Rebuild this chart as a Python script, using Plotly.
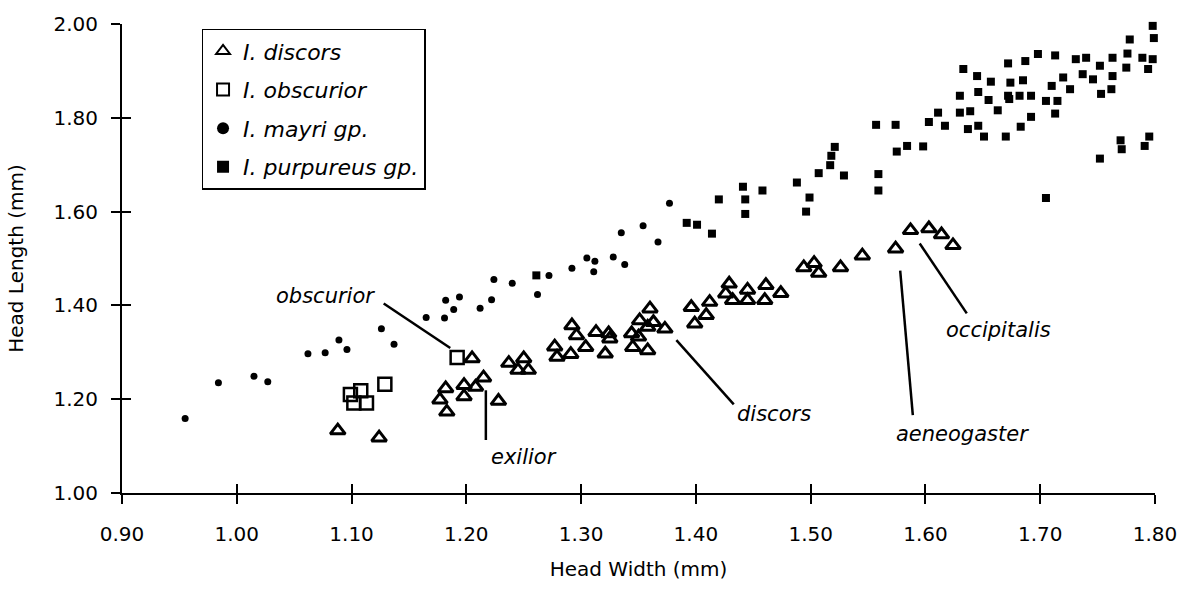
import plotly.graph_objects as go

# ---------------- data ----------------
discors_x = [1.088, 1.124, 1.205, 1.182, 1.177, 1.183, 1.198, 1.198, 1.208, 1.215, 1.228,
             1.237, 1.250, 1.245, 1.254, 1.277, 1.279, 1.292, 1.296, 1.291, 1.304, 1.313,
             1.324, 1.325, 1.321, 1.344, 1.345, 1.351, 1.360, 1.358, 1.363, 1.350, 1.358,
             1.373, 1.396, 1.399, 1.412, 1.409, 1.429, 1.426, 1.432, 1.445, 1.445, 1.461,
             1.460, 1.474, 1.494, 1.503, 1.507, 1.526, 1.545, 1.574, 1.587, 1.603, 1.614, 1.624]
discors_y = [1.133, 1.118, 1.287, 1.223, 1.199, 1.173, 1.230, 1.206, 1.226, 1.246, 1.196,
             1.277, 1.287, 1.262, 1.262, 1.312, 1.290, 1.357, 1.336, 1.296, 1.311, 1.343,
             1.340, 1.329, 1.297, 1.340, 1.311, 1.368, 1.393, 1.354, 1.364, 1.333, 1.304,
             1.350, 1.396, 1.361, 1.407, 1.379, 1.446, 1.425, 1.411, 1.433, 1.411, 1.443,
             1.411, 1.426, 1.481, 1.490, 1.469, 1.481, 1.506, 1.521, 1.560, 1.564, 1.551, 1.528]

obscurior_x = [1.099, 1.108, 1.102, 1.113, 1.129, 1.192]
obscurior_y = [1.210, 1.218, 1.192, 1.192, 1.232, 1.289]

mayri_x = [0.955, 0.984, 1.015, 1.027, 1.062, 1.077, 1.089, 1.096, 1.126, 1.137, 1.165,
           1.181, 1.182, 1.189, 1.194, 1.212, 1.222, 1.224, 1.240, 1.262, 1.272, 1.292,
           1.305, 1.312, 1.311, 1.328, 1.338, 1.335, 1.354, 1.367, 1.377]
mayri_y = [1.159, 1.235, 1.249, 1.237, 1.297, 1.299, 1.326, 1.306, 1.350, 1.317, 1.374,
           1.373, 1.411, 1.391, 1.418, 1.394, 1.412, 1.455, 1.447, 1.423, 1.464, 1.479,
           1.501, 1.494, 1.472, 1.503, 1.487, 1.555, 1.570, 1.535, 1.618]

purpureus_x = [1.261, 1.392, 1.401, 1.414, 1.420, 1.441, 1.443, 1.443, 1.458, 1.488, 1.499,
               1.496, 1.507, 1.517, 1.518, 1.529, 1.521,
               1.557, 1.574, 1.603, 1.611, 1.617, 1.630, 1.639, 1.637, 1.646, 1.651, 1.670,
               1.683, 1.692, 1.713,
               1.575, 1.584, 1.598, 1.559, 1.559, 1.705, 1.752, 1.771, 1.770, 1.791, 1.795,
               1.630, 1.646, 1.655, 1.673, 1.663, 1.672, 1.682, 1.692, 1.705, 1.715,
               1.633, 1.645, 1.657, 1.674, 1.685, 1.672, 1.687, 1.698, 1.713, 1.710, 1.720,
               1.726, 1.737, 1.746, 1.753, 1.762, 1.763, 1.731, 1.740, 1.752, 1.763, 1.776,
               1.778, 1.775, 1.794, 1.798, 1.799, 1.798, 1.802, 1.789]
purpureus_y = [1.464, 1.576, 1.572, 1.553, 1.626, 1.653, 1.626, 1.595, 1.645, 1.662, 1.630,
               1.600, 1.682, 1.699, 1.719, 1.677, 1.738,
               1.785, 1.785, 1.791, 1.811, 1.783, 1.811, 1.814, 1.776, 1.783, 1.760, 1.760,
               1.781, 1.802, 1.809,
               1.728, 1.740, 1.739, 1.680, 1.645, 1.629, 1.713, 1.733, 1.752, 1.740, 1.760,
               1.847, 1.855, 1.838, 1.840, 1.816, 1.847, 1.847, 1.847, 1.836, 1.836,
               1.904, 1.889, 1.877, 1.875, 1.880, 1.916, 1.921, 1.936, 1.933, 1.868, 1.886,
               1.861, 1.893, 1.882, 1.851, 1.861, 1.889, 1.925, 1.928, 1.911, 1.928, 1.937,
               1.967, 1.907, 1.904, 1.925, 1.970, 1.996, 2.015, 1.928]

series_names = ["I. discors", "I. obscurior", "I. mayri gp.", "I. purpureus gp."]

x_ticks = [0.90, 1.00, 1.10, 1.20, 1.30, 1.40, 1.50, 1.60, 1.70, 1.80]
y_ticks = [1.00, 1.20, 1.40, 1.60, 1.80, 2.00]

# callout labels: text, text position, leader line start/end
label_text = ["obscurior", "exilior", "discors", "aeneogaster", "occipitalis"]
label_x = [1.077, 1.250, 1.468, 1.632, 1.664]
label_y = [1.419, 1.077, 1.168, 1.126, 1.347]
leader_x0 = [1.128, 1.217, 1.383, 1.578, 1.595]
leader_y0 = [1.404, 1.219, 1.326, 1.474, 1.532]
leader_x1 = [1.186, 1.217, 1.433, 1.589, 1.636]
leader_y1 = [1.309, 1.113, 1.189, 1.166, 1.383]

FONT = "DejaVu Sans"

fig = go.Figure()

fig.add_trace(go.Scatter(
    x=discors_x, y=discors_y, mode="markers", name=series_names[0],
    legendgroup="a",
    marker=dict(symbol="triangle-up-open", size=13, color="black", line=dict(width=3, color="black")),
    cliponaxis=False))
fig.add_trace(go.Scatter(
    x=obscurior_x, y=obscurior_y, mode="markers", name=series_names[1],
    legendgroup="b",
    marker=dict(symbol="square-open", size=13, color="black", line=dict(width=2.5, color="black")),
    cliponaxis=False))
fig.add_trace(go.Scatter(
    x=mayri_x, y=mayri_y, mode="markers", name=series_names[2],
    legendgroup="c",
    marker=dict(symbol="circle", size=7, color="black"),
    cliponaxis=False))
fig.add_trace(go.Scatter(
    x=purpureus_x, y=purpureus_y, mode="markers", name=series_names[3],
    legendgroup="d",
    marker=dict(symbol="square", size=8, color="black"),
    cliponaxis=False))

# overlay axes to make ticks cross the axis lines
fig.add_trace(go.Scatter(x=[], y=[], xaxis="x2", yaxis="y2", showlegend=False,
                         mode="markers", hoverinfo="skip"))

# leader lines
for i in range(len(label_text)):
    fig.add_shape(type="line", xref="x", yref="y",
                  x0=leader_x0[i], y0=leader_y0[i], x1=leader_x1[i], y1=leader_y1[i],
                  line=dict(color="black", width=2.5))
    fig.add_annotation(x=label_x[i], y=label_y[i], xref="x", yref="y",
                       text=label_text[i], showarrow=False,
                       font=dict(family=FONT, size=21, color="black", style="italic"))

axis_common = dict(showgrid=False, zeroline=False, color="black")

fig.update_layout(
    width=1189, height=590,
    margin=dict(l=122, r=27, t=23, b=97),
    paper_bgcolor="white", plot_bgcolor="white",
    font=dict(family=FONT, size=20, color="black"),
    xaxis=dict(range=[0.90, 1.80], tickvals=x_ticks, ticktext=[f"{v:.2f}" for v in x_ticks],
               ticks="outside", ticklen=9, tickwidth=1.5, tickcolor="black",
               showline=True, linecolor="black", linewidth=2,
               ticklabelstandoff=13,
               title=dict(text="Head Width (mm)", font=dict(family=FONT, size=20), standoff=17),
               **axis_common),
    yaxis=dict(range=[1.00, 2.00], tickvals=y_ticks, ticktext=[f"{v:.2f}" for v in y_ticks],
               ticks="outside", ticklen=9, tickwidth=1.5, tickcolor="black",
               showline=True, linecolor="black", linewidth=2,
               ticklabelstandoff=9,
               title=dict(text="Head Length (mm)", font=dict(family=FONT, size=20), standoff=24),
               **axis_common),
    xaxis2=dict(range=[0.90, 1.80], tickvals=x_ticks, overlaying="x", side="bottom",
                ticks="inside", ticklen=9, tickwidth=1.5, tickcolor="black",
                showticklabels=False, showline=False, **axis_common),
    yaxis2=dict(range=[1.00, 2.00], tickvals=y_ticks, overlaying="y", side="left",
                ticks="inside", ticklen=9, tickwidth=1.5, tickcolor="black",
                showticklabels=False, showline=False, **axis_common),
    legend=dict(x=0.077, y=0.99, xanchor="left", yanchor="top",
                bordercolor="black", borderwidth=1.5, bgcolor="white",
                font=dict(family=FONT, size=22, style="italic"),
                traceorder="grouped", tracegroupgap=7,
                itemsizing="constant", itemwidth=30),
    showlegend=True,
)

fig.write_html("out.html", config={"displayModeBar": False},
               post_script="document.body.style.margin='0';")
